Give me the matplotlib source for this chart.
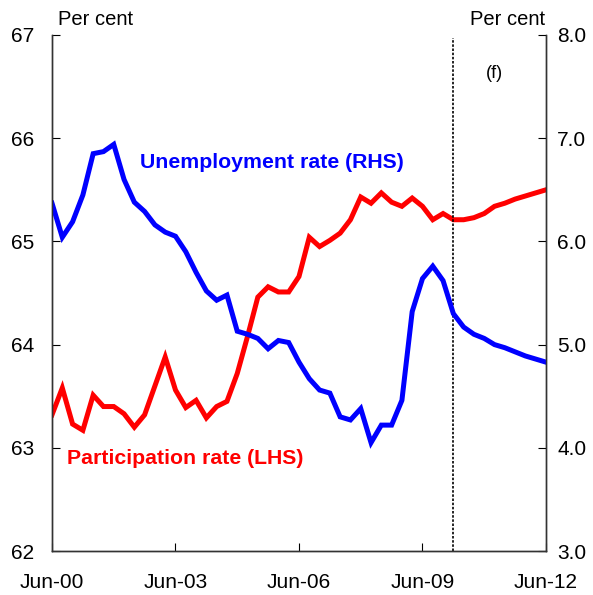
import matplotlib
matplotlib.use('Agg')
import matplotlib.pyplot as plt
import numpy as np

plt.rcParams['font.family'] = ['Liberation Sans', 'DejaVu Sans']

# quarterly, Jun-00 to Jun-12 (forecast from Mar-10)
quarters = np.arange(49)
tick_pos = [0, 12, 24, 36, 48]
tick_labels = ['Jun-00', 'Jun-03', 'Jun-06', 'Jun-09', 'Jun-12']
forecast_start = 39

# participation rate, LHS
participation = [63.32, 63.58, 63.23, 63.17, 63.51, 63.40, 63.40, 63.33, 63.20, 63.32,
                 63.60, 63.88, 63.56, 63.39, 63.46, 63.29, 63.40, 63.45, 63.72, 64.08,
                 64.46, 64.56, 64.51, 64.51, 64.66, 65.04, 64.95, 65.01, 65.08, 65.21,
                 65.43, 65.37, 65.47, 65.38, 65.34, 65.42, 65.34, 65.21, 65.27, 65.21,
                 65.21, 65.23, 65.27, 65.34, 65.37, 65.41, 65.44, 65.47, 65.50]

# unemployment rate, RHS
unemployment = [6.37, 6.04, 6.19, 6.45, 6.85, 6.87, 6.94, 6.60, 6.38, 6.29,
                6.16, 6.09, 6.05, 5.90, 5.70, 5.52, 5.43, 5.48, 5.13, 5.10,
                5.06, 4.96, 5.04, 5.02, 4.83, 4.67, 4.56, 4.53, 4.30, 4.27,
                4.38, 4.05, 4.22, 4.22, 4.46, 5.32, 5.64, 5.76, 5.62, 5.30,
                5.17, 5.10, 5.06, 5.00, 4.97, 4.93, 4.89, 4.86, 4.83]

fig = plt.figure(figsize=(5.93, 5.95), dpi=100)
ax = fig.add_axes([0.0877, 0.0739, 0.833, 0.8673])
ax2 = ax.twinx()

ax.plot(quarters, participation, color='#ff0000', linewidth=3.6, solid_joinstyle='miter')
ax2.plot(quarters, unemployment, color='#0000ff', linewidth=3.6, solid_joinstyle='miter')
ax.axvline(forecast_start, color='black', linestyle=(0, (1.5, 1)), linewidth=1.2, ymax=0.995)

ax.set_xlim(0, 48)
ax.set_ylim(62, 67)
ax2.set_ylim(3.0, 8.0)
ax.set_yticks(range(62, 68))
ax2.set_yticks(np.arange(3.0, 8.1, 1.0))
ax2.set_yticklabels(['%.1f' % v for v in np.arange(3.0, 8.1, 1.0)])
ax.set_xticks(tick_pos)
ax.set_xticklabels(tick_labels)

for a in (ax, ax2):
    a.spines['top'].set_visible(False)
    for s in a.spines.values():
        s.set_color('#333333')
        s.set_linewidth(1.0)
ax.tick_params(axis='y', direction='in', length=6, pad=13, labelsize=15)
ax.tick_params(axis='x', direction='in', length=6, pad=16, labelsize=15)
ax2.tick_params(axis='y', direction='in', length=6, pad=8, labelsize=15)

fig.text(0.098, 0.968, 'Per cent', fontsize=14.5, ha='left', va='center')
fig.text(0.920, 0.968, 'Per cent', fontsize=14.5, ha='right', va='center')
ax.text(0.895, 0.925, '(f)', transform=ax.transAxes, fontsize=13, ha='center', va='center')
ax.text(0.178, 0.752, 'Unemployment rate (RHS)', transform=ax.transAxes, color='#0000ff',
        fontsize=15.3, fontweight='bold', ha='left', va='center')
ax.text(0.03, 0.18, 'Participation rate (LHS)', transform=ax.transAxes, color='#ff0000',
        fontsize=15.3, fontweight='bold', ha='left', va='center')

fig.savefig('out.png', dpi=100)
